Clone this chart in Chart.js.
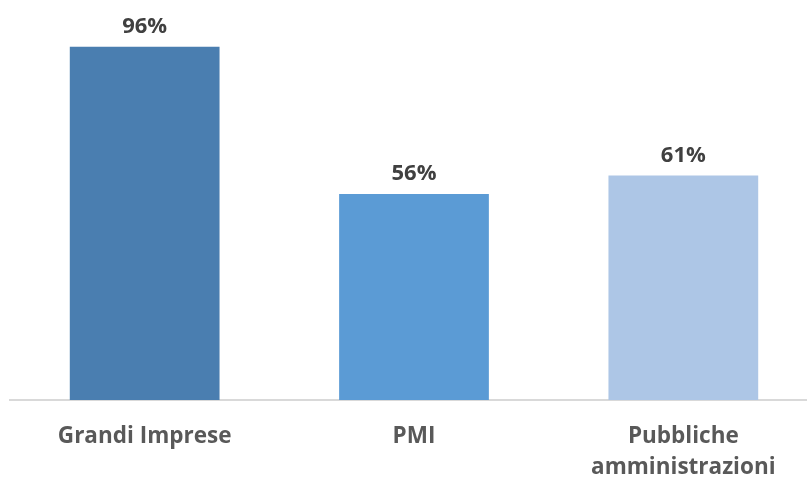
<!DOCTYPE html>
<html>
<head>
<meta charset="utf-8">
<script src="https://cdn.jsdelivr.net/npm/chart.js@4/dist/chart.umd.min.js"></script>
<style>
  html, body { margin: 0; padding: 0; background: #fff; overflow: hidden; }
  #wrap { width: 830px; height: 479px; position: relative; }
</style>
</head>
<body>
<div id="wrap"><canvas id="grafico"></canvas></div>
<script>
// Dati
const categorie = ['Grandi Imprese', 'PMI', ['Pubbliche', 'amministrazioni']];
const valori = [96, 56, 61];
const colori = ['#4a7eb0', '#5b9bd5', '#adc6e6'];

// Etichette percentuali sopra le barre
const etichettePlugin = {
    id: 'etichette',
    afterDatasetsDraw(chart) {
        const ctx = chart.ctx;
        const meta = chart.getDatasetMeta(0);
        ctx.save();
        ctx.font = 'bold 22px "Open Sans"';
        ctx.fillStyle = '#404040';
        ctx.textAlign = 'center';
        ctx.textBaseline = 'middle';
        meta.data.forEach((bar, i) => {
            ctx.fillText(valori[i] + '%', bar.x, bar.y - 20);
        });
        ctx.restore();
    }
};

new Chart(document.getElementById('grafico'), {
    type: 'bar',
    data: {
        labels: categorie,
        datasets: [{
            data: valori,
            backgroundColor: colori,
            categoryPercentage: 1,
            barPercentage: 0.556
        }]
    },
    options: {
        responsive: true,
        maintainAspectRatio: false,
        animation: false,
        layout: { padding: { top: 32, left: 10, right: 12, bottom: 0 } },
        plugins: { legend: { display: false }, tooltip: { enabled: false } },
        scales: {
            y: { display: false, min: 0, max: 100 },
            x: {
                grid: { display: false, drawTicks: false },
                border: { display: true, color: '#d9d9d9', width: 2 },
                ticks: {
                    color: '#595959',
                    font: { family: 'Open Sans', size: 22.5, weight: 'bold', lineHeight: 1.34 },
                    padding: 22,
                    maxRotation: 0
                },
                afterFit(scale) { scale.height = 79; }
            }
        }
    },
    plugins: [etichettePlugin]
});
</script>
</body>
</html>
